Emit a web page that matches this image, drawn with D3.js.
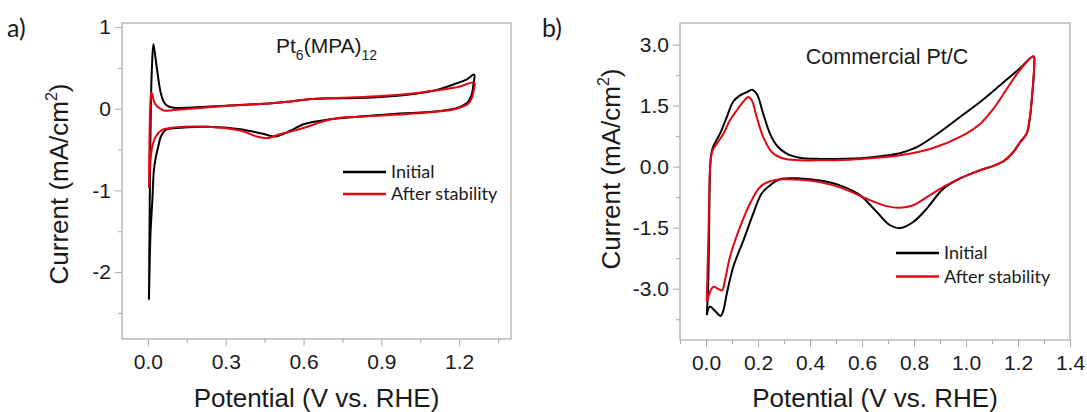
<!DOCTYPE html>
<html>
<head>
<meta charset="utf-8">
<script src="https://cdn.jsdelivr.net/npm/d3@7"></script>
<style>
  html, body { margin: 0; padding: 0; background: #fff; }
  svg { display: block; }
  .tick text { font-family: "Liberation Sans", Arial, sans-serif; font-size: 21px; fill: #1a1a1a; }
</style>
</head>
<body>
<svg id="chart" width="1087" height="412"></svg>
<script>
// ---- Series names and colours ----
const seriesNames = ["Initial", "After stability"];
const seriesColors = ["#000000", "#e30613"];

// ---- Panel a: Pt6(MPA)12, [potential V, current mA/cm2], one closed CV loop each ----
const aInitial = [
  [0.004,-2.34],[0.006,-1.5],[0.009,-0.5],[0.012,0.15],[0.016,0.55],[0.021,0.79],[0.026,0.70],
  [0.036,0.46],[0.049,0.2],[0.062,0.08],[0.075,0.035],[0.1,0.012],[0.2,0.02],[0.3,0.037],
  [0.45,0.06],[0.55,0.09],[0.62,0.115],[0.7,0.125],[0.8,0.13],[0.9,0.145],[1.0,0.17],
  [1.1,0.22],[1.18,0.3],[1.23,0.36],[1.258,0.42],
  [1.255,0.3],[1.25,0.19],[1.24,0.11],[1.23,0.07],[1.193,0.01],[1.116,-0.03],[0.92,-0.07],
  [0.8,-0.1],[0.7,-0.13],[0.6,-0.19],[0.55,-0.27],[0.49,-0.34],[0.447,-0.31],[0.357,-0.25],
  [0.229,-0.22],[0.1,-0.24],[0.068,-0.26],[0.05,-0.34],[0.04,-0.46],[0.03,-0.6],[0.023,-0.75],
  [0.017,-1.12],[0.01,-1.52],[0.0065,-1.93],[0.004,-2.34]
];
const aAfter = [
  [0.004,-0.97],[0.005,-0.6],[0.007,-0.2],[0.009,0.05],[0.013,0.2],[0.018,0.17],[0.023,0.09],
  [0.035,0.03],[0.049,0.0],[0.065,-0.025],[0.1,-0.015],[0.2,0.01],[0.3,0.035],[0.45,0.06],
  [0.55,0.09],[0.62,0.115],[0.7,0.13],[0.8,0.14],[0.9,0.155],[1.0,0.18],[1.1,0.22],[1.2,0.27],
  [1.258,0.32],
  [1.256,0.22],[1.25,0.14],[1.235,0.06],[1.19,0.0],[1.1,-0.04],[0.92,-0.08],[0.8,-0.1],
  [0.74,-0.11],[0.68,-0.15],[0.615,-0.22],[0.55,-0.28],[0.51,-0.31],[0.46,-0.36],[0.42,-0.34],
  [0.36,-0.27],[0.229,-0.22],[0.1,-0.23],[0.055,-0.26],[0.03,-0.34],[0.017,-0.46],[0.01,-0.62],
  [0.004,-0.97]
];

// ---- Panel b: commercial Pt/C ----
const bInitial = [
  [0.003,-3.65],[0.008,-3.0],[0.012,-1.5],[0.014,-0.5],[0.016,0.0],[0.02,0.3],[0.028,0.5],
  [0.054,0.81],[0.08,1.22],[0.105,1.6],[0.131,1.75],[0.157,1.83],[0.176,1.89],[0.195,1.79],
  [0.22,1.3],[0.246,0.81],[0.272,0.52],[0.31,0.32],[0.36,0.22],[0.44,0.19],[0.5,0.19],
  [0.618,0.22],[0.7,0.28],[0.746,0.33],[0.8,0.45],[0.823,0.52],[0.9,0.85],[0.977,1.22],
  [1.054,1.59],[1.131,2.0],[1.208,2.42],[1.26,2.71],
  [1.262,2.44],[1.255,1.8],[1.246,1.22],[1.233,0.81],[1.208,0.6],[1.182,0.36],[1.15,0.16],
  [1.11,0.03],[1.054,-0.09],[0.977,-0.29],[0.913,-0.54],[0.849,-1.03],[0.797,-1.36],
  [0.746,-1.51],[0.708,-1.44],[0.656,-1.11],[0.592,-0.70],[0.515,-0.46],[0.438,-0.34],
  [0.362,-0.29],[0.285,-0.31],[0.246,-0.46],[0.214,-0.66],[0.182,-1.15],[0.144,-1.81],
  [0.105,-2.46],[0.08,-3.12],[0.066,-3.55],[0.056,-3.67],[0.035,-3.55],[0.015,-3.44],
  [0.003,-3.65]
];
const bAfter = [
  [0.003,-3.32],[0.006,-2.5],[0.01,-1.5],[0.013,-0.5],[0.016,0.0],[0.018,0.15],[0.025,0.4],
  [0.041,0.56],[0.067,0.81],[0.092,1.14],[0.118,1.38],[0.144,1.6],[0.163,1.71],[0.176,1.63],
  [0.195,1.22],[0.22,0.73],[0.253,0.36],[0.297,0.2],[0.36,0.16],[0.44,0.155],[0.55,0.17],
  [0.618,0.2],[0.746,0.28],[0.874,0.46],[0.977,0.73],[1.054,1.05],[1.105,1.42],[1.157,1.91],
  [1.208,2.38],[1.26,2.71],
  [1.262,2.44],[1.255,1.8],[1.246,1.22],[1.233,0.81],[1.208,0.6],[1.182,0.36],[1.15,0.16],
  [1.11,0.03],[1.054,-0.09],[0.977,-0.29],[0.913,-0.5],[0.849,-0.75],[0.797,-0.95],
  [0.746,-1.01],[0.695,-0.97],[0.618,-0.79],[0.528,-0.54],[0.438,-0.38],[0.362,-0.32],
  [0.297,-0.31],[0.246,-0.36],[0.208,-0.5],[0.169,-0.91],[0.131,-1.48],[0.092,-2.22],
  [0.073,-2.79],[0.062,-3.04],[0.045,-3.0],[0.028,-2.95],[0.003,-3.32]
];

// ---- Ticks ----
const aXTicks = [0, 0.3, 0.6, 0.9, 1.2];
const aXTickLabels = ["0.0", "0.3", "0.6", "0.9", "1.2"];
const aXMinor = [0.15, 0.45, 0.75, 1.05, 1.35];
const aYTicks = [1, 0, -1, -2];
const aYTickLabels = ["1", "0", "-1", "-2"];
const aYMinor = [0.5, -0.5, -1.5, -2.5];

const bXTicks = [0, 0.2, 0.4, 0.6, 0.8, 1.0, 1.2, 1.4];
const bXTickLabels = ["0.0", "0.2", "0.4", "0.6", "0.8", "1.0", "1.2", "1.4"];
const bXMinor = [-0.1, 0.1, 0.3, 0.5, 0.7, 0.9, 1.1, 1.3];
const bYTicks = [3, 1.5, 0, -1.5, -3];
const bYTickLabels = ["3.0", "1.5", "0.0", "-1.5", "-3.0"];
const bYMinor = [2.25, 0.75, -0.75, -2.25, -3.75];

const svg = d3.select("#chart");
const sans = '"Liberation Sans", Arial, sans-serif';
const humanist = 'Lato, "Open Sans", sans-serif';
const frameColor = "#a9a9a9";

function drawPanel(cfg) {
  const x = d3.scaleLinear().domain(cfg.xDomain).range([cfg.left, cfg.right]);
  const y = d3.scaleLinear().domain(cfg.yDomain).range([cfg.bottom, cfg.top]);
  const g = svg.append("g");

  // minor ticks
  g.append("g").attr("transform", `translate(0,${cfg.bottom})`)
    .call(d3.axisBottom(x).tickValues(cfg.xMinor).tickSize(4).tickFormat(""))
    .call(s => s.select(".domain").remove())
    .call(s => s.selectAll("line").attr("stroke", frameColor));
  g.append("g").attr("transform", `translate(${cfg.left},0)`)
    .call(d3.axisLeft(y).tickValues(cfg.yMinor).tickSize(4).tickFormat(""))
    .call(s => s.select(".domain").remove())
    .call(s => s.selectAll("line").attr("stroke", frameColor));

  // major ticks with labels
  g.append("g").attr("transform", `translate(0,${cfg.bottom})`)
    .call(d3.axisBottom(x).tickValues(cfg.xTicks).tickSize(7).tickPadding(8)
      .tickFormat((d, i) => cfg.xLabels[i]))
    .call(s => s.select(".domain").remove())
    .call(s => s.selectAll("line").attr("stroke", frameColor));
  g.append("g").attr("transform", `translate(${cfg.left},0)`)
    .call(d3.axisLeft(y).tickValues(cfg.yTicks).tickSize(7).tickPadding(4)
      .tickFormat((d, i) => cfg.yLabels[i]))
    .call(s => s.select(".domain").remove())
    .call(s => s.selectAll("line").attr("stroke", frameColor));

  // frame
  g.append("rect")
    .attr("x", cfg.left).attr("y", cfg.top)
    .attr("width", cfg.right - cfg.left).attr("height", cfg.bottom - cfg.top)
    .attr("fill", "none").attr("stroke", frameColor).attr("stroke-width", 1.2);

  // curves
  const line = d3.line()
    .x(d => x(d[0])).y(d => y(d[1]))
    .curve(d3.curveCatmullRom.alpha(0.5));
  cfg.series.forEach((s, i) => {
    g.append("path").datum(s)
      .attr("d", line)
      .attr("fill", "none")
      .attr("stroke", seriesColors[i])
      .attr("stroke-width", 2)
      .attr("stroke-linejoin", "round");
  });

  // legend
  seriesNames.forEach((name, i) => {
    const ly = cfg.legendY + i * cfg.legendGap;
    g.append("line")
      .attr("x1", cfg.legendX).attr("x2", cfg.legendX + 43)
      .attr("y1", ly).attr("y2", ly)
      .attr("stroke", seriesColors[i]).attr("stroke-width", 2.5);
    g.append("text")
      .attr("x", cfg.legendX + 48).attr("y", ly + 6)
      .attr("font-family", humanist).attr("font-size", 18).attr("fill", "#1a1a1a")
      .text(name);
  });

  // axis titles
  g.append("text")
    .attr("x", (cfg.left + cfg.right) / 2).attr("y", 407)
    .attr("text-anchor", "middle")
    .attr("font-family", sans).attr("font-size", 26).attr("fill", "#1a1a1a")
    .text("Potential (V vs. RHE)");
  const yt = g.append("text")
    .attr("transform", `translate(${cfg.yTitleX},${cfg.yTitleY}) rotate(-90)`)
    .attr("text-anchor", "middle")
    .attr("font-family", sans).attr("font-size", 26).attr("fill", "#1a1a1a");
  yt.append("tspan").text("Current (mA/cm");
  yt.append("tspan").attr("font-size", 16).attr("dy", -11).text("2");
  yt.append("tspan").attr("dy", 11).text(")");

  // panel letter
  g.append("text")
    .attr("x", cfg.letterX).attr("y", 37)
    .attr("font-family", humanist).attr("font-size", 25).attr("fill", "#1a1a1a")
    .text(cfg.letter);

  return g;
}

const gA = drawPanel({
  left: 122, right: 511, top: 23, bottom: 339,
  xDomain: [-0.1, 1.4], yDomain: [-2.82, 1.05],
  xTicks: aXTicks, xLabels: aXTickLabels, xMinor: aXMinor,
  yTicks: aYTicks, yLabels: aYTickLabels, yMinor: aYMinor,
  series: [aInitial, aAfter],
  legendX: 343, legendY: 172, legendGap: 22,
  yTitleX: 68, yTitleY: 184,
  letter: "a)", letterX: 7
});

const gB = drawPanel({
  left: 680, right: 1070, top: 23, bottom: 340,
  xDomain: [-0.1, 1.4], yDomain: [-4.26, 3.53],
  xTicks: bXTicks, xLabels: bXTickLabels, xMinor: bXMinor,
  yTicks: bYTicks, yLabels: bYTickLabels, yMinor: bYMinor,
  series: [bInitial, bAfter],
  legendX: 896, legendY: 253, legendGap: 23.5,
  yTitleX: 620, yTitleY: 169,
  letter: "b)", letterX: 542
});

// sample labels
const tA = gA.append("text").attr("x", 276).attr("y", 53)
  .attr("font-family", sans).attr("font-size", 21).attr("fill", "#1a1a1a");
tA.append("tspan").text("Pt");
tA.append("tspan").attr("font-size", 14).attr("dy", 7).text("6");
tA.append("tspan").attr("dy", -7).text("(MPA)");
tA.append("tspan").attr("font-size", 14).attr("dy", 7).text("12");

gB.append("text").attr("x", 887).attr("y", 64)
  .attr("text-anchor", "middle")
  .attr("font-family", sans).attr("font-size", 21.5).attr("fill", "#1a1a1a")
  .text("Commercial Pt/C");
</script>
</body>
</html>
